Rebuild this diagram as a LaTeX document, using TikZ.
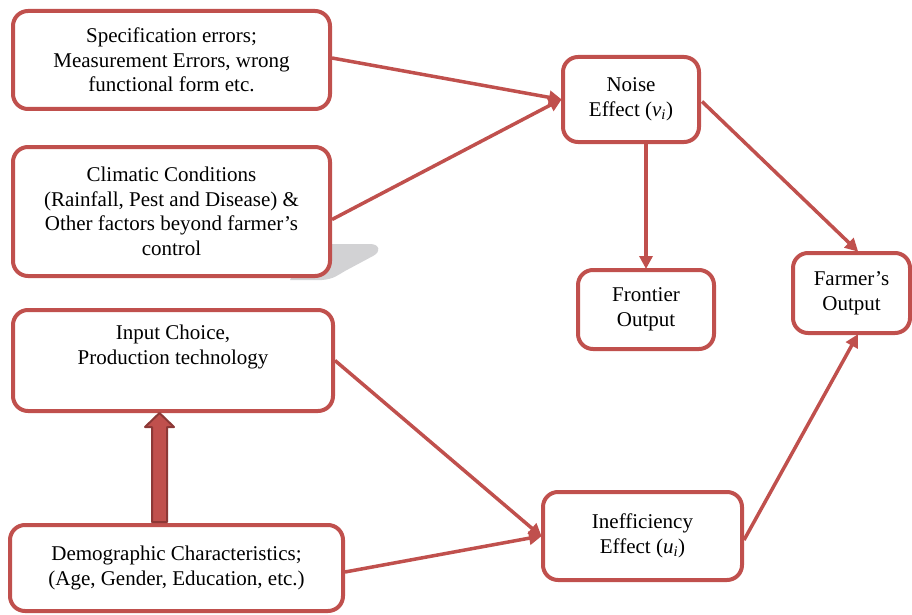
\documentclass[tikz,border=0pt]{standalone}
\usepackage{fontspec}
\setmainfont{Liberation Serif}
\usetikzlibrary{arrows.meta,calc}
\definecolor{boxred}{HTML}{C0504D}
\definecolor{darkred}{HTML}{8C3836}
\definecolor{shadowgray}{HTML}{D2D2D4}
\begin{document}
\begin{tikzpicture}[x=1pt,y=-1pt,
  box/.style={draw=boxred, line width=4pt, rounded corners=15pt, fill=white,
    align=center, inner sep=0pt, font=\fontsize{21pt}{24.5pt}\selectfont},
  conn/.style={draw=boxred, line width=3.5pt, -{Triangle[length=13pt,width=13pt]}, shorten >=-1pt}
]
\useasboundingbox (0,0) rectangle (912,615);
% shadow behind climatic box
\fill[shadowgray] (310,244) -- (370,244) .. controls (380,244) and (381,252) .. (373,256)
  -- (345,271) .. controls (338,275) and (334,279) .. (322,280) -- (290,280) -- cycle;

\node[box, minimum width=317pt, minimum height=98pt] (spec) at (171.5,60)
  {Specification errors;\\Measurement Errors, wrong\\functional form etc.};
\node[box, minimum width=317pt, minimum height=129pt] (clim) at (171.5,211.5)
  {Climatic Conditions\\(Rainfall, Pest and Disease) \&\\Other factors beyond farmer’s\\control};
\node[box, minimum width=136pt, minimum height=85pt] (noise) at (631,99.5)
  {Noise\\Effect (\textit{v\textsubscript{i}})};
\node[box, minimum width=136pt, minimum height=79pt] (front) at (646,309.5)
  {Frontier\\Output};
\node[box, minimum width=117pt, minimum height=80pt] (farm) at (851.5,293)
  {Farmer’s\\Output};
\node[box, minimum width=320pt, minimum height=101pt] (input) at (173,360.5)
  {Input Choice,\\Production technology\\\strut};
\node[box, minimum width=333pt, minimum height=86pt] (demo) at (176.5,568)
  {Demographic Characteristics;\\(Age, Gender, Education, etc.)};
\node[box, minimum width=199pt, minimum height=88pt] (ineff) at (642.5,536)
  {Inefficiency\\Effect (\textit{u\textsubscript{i}})};

% connectors
\draw[conn] ($(spec.east)+(0,-2)$) -- (noise.west);
\draw[conn] ($(clim.east)+(0,8)$) -- (noise.west);
\draw[conn] (front.north |- noise.south) -- (front.north);
\draw[conn] ($(noise.east)+(1,2)$) -- ($(farm.north)+(6,0)$);
\draw[conn] ($(ineff.east)+(0,4)$) -- ($(farm.south)+(6,0)$);
\draw[conn] (input.east) -- (ineff.west);
\draw[conn] ($(demo.east)+(0,4)$) -- (ineff.west);

% thick block arrow from demographic to input choice
\coordinate (ta) at (159.5,522);
\coordinate (tb) at (159.5,413);
\draw[fill=boxred, draw=darkred, line width=2pt, line join=round]
  ($(ta)+(-7.5,0)$) -- ($(tb)+(-7.5,14)$) -- ($(tb)+(-14.5,14)$) -- (tb)
  -- ($(tb)+(14.5,14)$) -- ($(tb)+(7.5,14)$) -- ($(ta)+(7.5,0)$) -- cycle;
\end{tikzpicture}
\end{document}
